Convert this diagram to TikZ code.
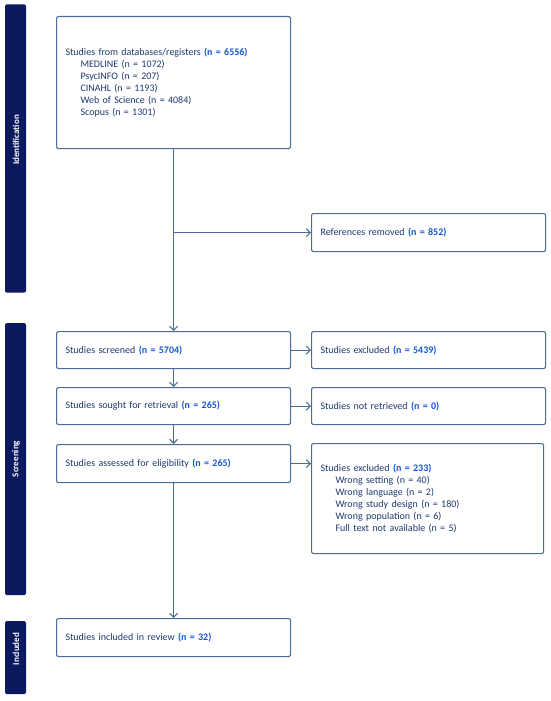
\documentclass[tikz,border=0pt]{standalone}
\usepackage{fontspec}
\setmainfont{Carlito}
\usetikzlibrary{arrows.meta}
\definecolor{navy}{HTML}{0B1A5E}
\definecolor{boxc}{HTML}{4A6C96}
\definecolor{txt}{HTML}{1F3A6E}
\definecolor{num}{HTML}{1457D6}
\newcommand{\nb}[1]{\textbf{\textcolor{num}{#1}}}
\tikzset{
  box/.style={draw=boxc, line width=1.1pt, rounded corners=2pt, fill=white,
    anchor=north west, minimum width=234pt, text width=216pt, inner xsep=9pt,
    align=left, font=\fontsize{10}{12}\selectfont, text=txt},
  bar/.style={fill=navy, rounded corners=1.5pt, minimum width=21pt, inner sep=0pt},
  bartext/.style={rotate=90, text=white, font=\bfseries\fontsize{9}{10}\selectfont, inner sep=0pt},
  conn/.style={draw=boxc, line width=1.1pt, -{Straight Barb[length=4pt,width=8pt]}}
}
\begin{document}
\begin{tikzpicture}[x=1pt,y=-1pt]
\useasboundingbox (0,0) rectangle (550,701);
% phase bars
\node[bar, minimum height=288pt] (idbar) at (15.5,148.5) {};
\node[bartext] (idtext) at (16,140) {Identification};
\node[bar, minimum height=272pt] (scbar) at (15.5,459) {};
\node[bartext] (sctext) at (16,459) {Screening};
\node[bar, minimum height=73pt] (inbar) at (15.5,657.5) {};
\node[bartext] (intext) at (16,649) {Included};
% boxes
\node[box, minimum height=132pt] (db) at (56,16) {Studies from databases/registers \nb{(n = 6556)}\\
\hspace*{15pt}MEDLINE (n = 1072)\\
\hspace*{15pt}PsycINFO (n = 207)\\
\hspace*{15pt}CINAHL (n = 1193)\\
\hspace*{15pt}Web of Science (n = 4084)\\
\hspace*{15pt}Scopus (n = 1301)};
\node[box, minimum height=38pt] (rem) at (311,213) {References removed \nb{(n = 852)}};
\node[box, minimum height=37pt] (scr) at (56,331) {Studies screened \nb{(n = 5704)}};
\node[box, minimum height=37pt] (ex1) at (311,331) {Studies excluded \nb{(n = 5439)}};
\node[box, minimum height=37pt] (sou) at (56,387) {Studies sought for retrieval \nb{(n = 265)}};
\node[box, minimum height=37pt] (nr) at (311,387) {Studies not retrieved \nb{(n = 0)}};
\node[box, minimum height=38pt] (ass) at (56,444) {Studies assessed for eligibility \nb{(n = 265)}};
\node[box, minimum height=110pt, minimum width=232pt, text width=214pt] (ex2) at (311,443) {Studies excluded \nb{(n = 233)}\\
\hspace*{15pt}Wrong setting (n = 40)\\
\hspace*{15pt}Wrong language (n = 2)\\
\hspace*{15pt}Wrong study design (n = 180)\\
\hspace*{15pt}Wrong population (n = 6)\\
\hspace*{15pt}Full text not available (n = 5)};
\node[box, minimum height=38pt] (inc) at (56,618) {Studies included in review \nb{(n = 32)}};
% connectors
\coordinate (br) at (db.south |- rem.west);
\draw[conn] (db.south) -- (scr.north);
\draw[conn] (br) -- (rem.west);
\draw[conn] (scr.east) -- (ex1.west);
\draw[conn] (scr.south) -- (sou.north);
\draw[conn] (sou.east) -- (nr.west);
\draw[conn] (sou.south) -- (ass.north);
\draw[conn] (ass.east) -- (ass.east -| ex2.west);
\draw[conn] (ass.south) -- (inc.north);
\end{tikzpicture}
\end{document}
